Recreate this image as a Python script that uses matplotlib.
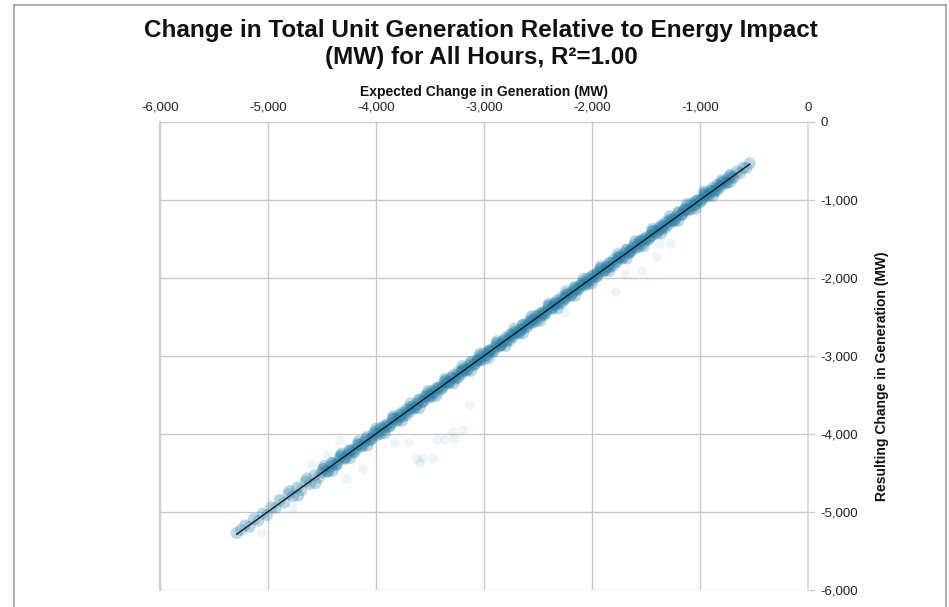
import numpy as np
import matplotlib
matplotlib.use("Agg")
import matplotlib.pyplot as plt
from matplotlib.lines import Line2D
from matplotlib.ticker import FuncFormatter

plt.rcParams['font.family'] = ['Liberation Sans', 'DejaVu Sans']

title = "Change in Total Unit Generation Relative to Energy Impact\n(MW) for All Hours, R\u00b2=1.00"
x_label = "Expected Change in Generation (MW)"
y_label = "Resulting Change in Generation (MW)"
x_ticks = [-6000, -5000, -4000, -3000, -2000, -1000, 0]
y_ticks = [0, -1000, -2000, -3000, -4000, -5000, -6000]

# main band of hourly points (expected, resulting)
band_x = [-5290, -5250, -5210, -5170, -5130, -5090, -5050, -5010, -4970, -4930,
          -4890, -4850, -4810, -4770, -4730, -4690, -4650, -4610, -4570, -4530,
          -4490, -4450, -4410, -4370, -4330, -4290, -4250, -4210, -4170, -4130,
          -4090, -4050,
          -4020, -3990, -3960, -3930, -3900, -3870, -3840, -3810, -3780, -3750,
          -3720, -3690, -3660, -3630, -3600, -3570, -3540, -3510, -3480, -3450,
          -3420, -3390, -3360, -3330, -3300, -3270, -3240, -3210, -3180, -3150,
          -3120, -3090, -3060, -3030, -3000, -2970, -2940, -2910, -2880, -2850,
          -2820, -2790, -2760, -2730, -2700, -2670, -2640, -2610, -2580, -2550,
          -2520, -2490, -2460, -2430, -2400, -2370, -2340, -2310, -2280, -2250,
          -2220, -2190, -2160, -2130, -2100, -2070, -2040, -2010, -1980, -1950,
          -1920, -1890, -1860, -1830, -1800, -1770, -1740, -1710, -1680, -1650,
          -1620, -1590, -1560, -1530, -1500, -1470, -1440, -1410, -1380, -1350,
          -1320, -1290, -1260, -1230, -1200, -1170, -1140, -1110, -1080, -1050,
          -1020, -990, -960, -930, -900, -870, -840, -810, -780, -750,
          -720, -690, -660, -630, -600, -570, -540,
          -3500, -3350, -3200, -3050, -2950, -2850, -2750, -2650, -2550, -2450,
          -2350, -2250, -2150, -2050, -1950, -1850, -1750, -1650, -1550, -1450,
          -1350, -1250, -1150, -1050, -950, -850,
          -4800, -4720, -4640, -4560, -4480, -4400, -4320, -4240, -4160, -4080,
          -4000, -3920, -3840, -3760, -3680, -3600, -3520, -3440, -3360, -3280,
          -3200, -3120, -3040, -2960, -2880, -2800, -2720, -2640, -2560, -2480,
          -2400, -2320, -2240, -2160, -2080, -2000, -1920, -1840, -1760, -1680,
          -1600, -1520, -1440, -1360, -1280, -1200, -1120, -1040, -960, -880,
          -800, -720,
          -4500, -4460, -4420, -4380, -4340, -4300, -4260, -4220, -4180, -4140,
          -4100, -4060, -4020, -3980, -3940, -3900, -3860, -3820, -3780, -3740,
          -3700, -3660, -3620, -3580, -3540, -3500, -3460, -3420, -3380, -3340,
          -3300, -3260, -3220, -3180, -3140, -3100, -3060, -3020, -2980, -2940,
          -2900, -2860, -2820, -2780, -2740, -2700, -2660, -2620, -2580, -2540,
          -2500, -2460, -2420, -2380, -2340, -2300, -2260, -2220, -2180, -2140,
          -2100, -2060, -2020, -1980, -1940, -1900, -1860, -1820, -1780, -1740,
          -1700, -1660, -1620, -1580, -1540, -1500, -1460, -1420, -1380, -1340,
          -1300, -1260, -1220, -1180, -1140, -1100, -1060, -1020, -980, -940,
          -900, -860, -820, -780, -740, -700,
          -4480, -4440, -4400, -4360, -4320, -4280, -4240, -4200, -4160, -4120,
          -4080, -4040, -4000, -3960, -3920, -3880, -3840, -3800, -3760, -3720,
          -3680, -3640, -3600, -3560, -3520, -3480, -3440, -3400, -3360, -3320,
          -3280, -3240, -3200, -3160, -3120, -3080, -3040, -3000, -2960, -2920,
          -2880, -2840, -2800, -2760, -2720, -2680, -2640, -2600, -2560, -2520,
          -2480, -2440, -2400, -2360, -2320, -2280, -2240, -2200, -2160, -2120,
          -2080, -2040, -2000, -1960, -1920, -1880, -1840, -1800, -1760, -1720,
          -1680, -1640, -1600, -1560, -1520, -1480, -1440, -1400, -1360, -1320,
          -1280, -1240, -1200, -1160, -1120, -1080, -1040, -1000, -960, -920,
          -880, -840, -800, -760, -720]
band_y = [-5270, -5230, -5170, -5190, -5090, -5110, -5020, -5040, -4940, -4950,
          -4850, -4880, -4770, -4800, -4690, -4720, -4610, -4640, -4530, -4560,
          -4450, -4480, -4370, -4400, -4290, -4320, -4220, -4230, -4130, -4160,
          -4060, -4080,
          -3985, -4015, -3925, -3955, -3875, -3895, -3805, -3835, -3755, -3775,
          -3685, -3715, -3645, -3650, -3565, -3595, -3515, -3535, -3445, -3475,
          -3400, -3415, -3325, -3355, -3275, -3295, -3205, -3235, -3160, -3170,
          -3085, -3115, -3045, -3055, -2965, -2995, -2920, -2935, -2845, -2875,
          -2800, -2815, -2725, -2755, -2680, -2695, -2605, -2635, -2560, -2575,
          -2485, -2515, -2440, -2455, -2365, -2395, -2320, -2335, -2245, -2275,
          -2200, -2215, -2125, -2155, -2080, -2095, -2005, -2035, -1960, -1975,
          -1885, -1915, -1840, -1855, -1765, -1795, -1720, -1735, -1645, -1675,
          -1600, -1615, -1525, -1555, -1480, -1495, -1405, -1435, -1360, -1375,
          -1285, -1315, -1240, -1255, -1165, -1195, -1120, -1135, -1045, -1075,
          -1000, -1015, -925, -955, -880, -895, -805, -835, -760, -775,
          -695, -715, -635, -655, -585, -590, -530,
          -3490, -3345, -3195, -3060, -2945, -2855, -2740, -2660, -2545, -2455,
          -2340, -2260, -2145, -2055, -1940, -1860, -1745, -1655, -1540, -1460,
          -1345, -1255, -1140, -1060, -945, -855,
          -4730, -4790, -4570, -4630, -4410, -4470, -4250, -4310, -4090, -4150,
          -3930, -3990, -3770, -3830, -3610, -3670, -3450, -3510, -3290, -3350,
          -3130, -3190, -2970, -3030, -2810, -2870, -2650, -2710, -2490, -2550,
          -2330, -2390, -2170, -2230, -2010, -2070, -1850, -1910, -1690, -1750,
          -1530, -1590, -1370, -1430, -1210, -1270, -1050, -1110, -890, -950,
          -745, -770,
          -4490, -4475, -4415, -4385, -4325, -4310, -4260, -4208, -4188, -4137,
          -4090, -4075, -4015, -3985, -3925, -3910, -3860, -3808, -3788, -3737,
          -3690, -3675, -3615, -3585, -3525, -3510, -3460, -3408, -3388, -3337,
          -3290, -3275, -3215, -3185, -3125, -3110, -3060, -3008, -2988, -2937,
          -2890, -2875, -2815, -2785, -2725, -2710, -2660, -2608, -2588, -2537,
          -2490, -2475, -2415, -2385, -2325, -2310, -2260, -2208, -2188, -2137,
          -2090, -2075, -2015, -1985, -1925, -1910, -1860, -1808, -1788, -1737,
          -1690, -1675, -1615, -1585, -1525, -1510, -1460, -1408, -1388, -1337,
          -1290, -1275, -1215, -1185, -1125, -1110, -1060, -1008, -988, -937,
          -890, -875, -815, -785, -725, -710,
          -4445, -4480, -4375, -4390, -4275, -4300, -4205, -4240, -4135, -4150,
          -4035, -4060, -3965, -4000, -3895, -3910, -3795, -3820, -3725, -3760,
          -3655, -3670, -3555, -3580, -3485, -3520, -3415, -3430, -3315, -3340,
          -3245, -3280, -3175, -3190, -3075, -3100, -3005, -3040, -2935, -2950,
          -2835, -2860, -2765, -2800, -2695, -2710, -2595, -2620, -2525, -2560,
          -2455, -2470, -2355, -2380, -2285, -2320, -2215, -2230, -2115, -2140,
          -2045, -2080, -1975, -1990, -1875, -1900, -1805, -1840, -1735, -1750,
          -1635, -1660, -1565, -1600, -1495, -1510, -1395, -1420, -1325, -1360,
          -1255, -1270, -1155, -1180, -1085, -1120, -1015, -1030, -915, -940,
          -845, -880, -775, -790, -675]

# scattered hours away from the band
stray_x = [-3130, -3287, -3194, -3435, -3361, -3269, -3620, -3565, -3472, -3593,
           -3824, -3694, -4120, -4269, -4769, -5056, -4593, -4333, -4444, -1370,
           -1269, -1398, -1537, -1694, -1778, -2250, -4900, -4700]
stray_y = [-3628, -3974, -3949, -4077, -4077, -4064, -4321, -4308, -4321, -4372,
           -4115, -4115, -4449, -4577, -4949, -5269, -4385, -4090, -4269, -1564,
           -1564, -1731, -1910, -1949, -2179, -2449, -4820, -4630]

color = '#2a80a8'

fig = plt.figure(figsize=(9.49, 6.07), dpi=100)
ax = fig.add_axes([160/949, 1-590/607, 648/949, 468/607])

ax.scatter(stray_x, stray_y, s=50, color=color, alpha=0.08, edgecolors='none', zorder=2)
ax.scatter(band_x, band_y, s=75, color=color, alpha=0.3, edgecolors='none', zorder=3)

bx = np.array(band_x, dtype=float)
by = np.array(band_y, dtype=float)
slope, intercept = np.polyfit(bx, by, 1)
lx = np.array([bx.min(), bx.max()])
ax.plot(lx, slope*lx + intercept, color='#1a1a1a', lw=1.0, zorder=4)

ax.set_xlim(-6000, 0)
ax.set_ylim(-6000, 0)
ax.set_xticks(x_ticks)
ax.set_yticks(y_ticks)
fmt = FuncFormatter(lambda v, p: f"{int(v):,}")
ax.xaxis.set_major_formatter(fmt)
ax.yaxis.set_major_formatter(fmt)
ax.xaxis.tick_top()
ax.xaxis.set_label_position('top')
ax.yaxis.tick_right()
ax.yaxis.set_label_position('right')
ax.tick_params(axis='x', length=0, pad=6, labelsize=9.5, colors='#222222')
ax.tick_params(axis='y', length=5, width=1, pad=4, labelsize=9.5, color='#d0d0d0', labelcolor='#222222')
ax.grid(True, color='#c8c8c8', lw=1)
ax.set_axisbelow(True)
for s in ['top', 'bottom']:
    ax.spines[s].set_visible(False)
ax.spines['left'].set_color('#cfcfcf')
ax.spines['left'].set_linewidth(1.5)
ax.spines['right'].set_color('#d9d9d9')
ax.spines['right'].set_linewidth(1.2)

ax.set_xlabel(x_label, fontsize=10, fontweight='bold', labelpad=4, color='#111111')
ax.set_ylabel(y_label, fontsize=10, fontweight='bold', color='#111111', rotation=90)
ax.yaxis.set_label_coords((875-160)/648, (590-376)/468)

fig.text(481/949, 1-44/607, title, ha='center', va='center', fontsize=17.5,
         fontweight='bold', linespacing=1.22, color='#111111')

# outer frame
fr = dict(color='#a0a0a0', lw=1.2, transform=fig.transFigure)
fig.add_artist(Line2D([14/949, 14/949], [0, 1-5/607], **fr))
fig.add_artist(Line2D([14/949, 946/949], [1-5/607, 1-5/607], **fr))
fig.add_artist(Line2D([946/949, 946/949], [0, 1-5/607], **fr))

fig.savefig('out.png', dpi=100)
